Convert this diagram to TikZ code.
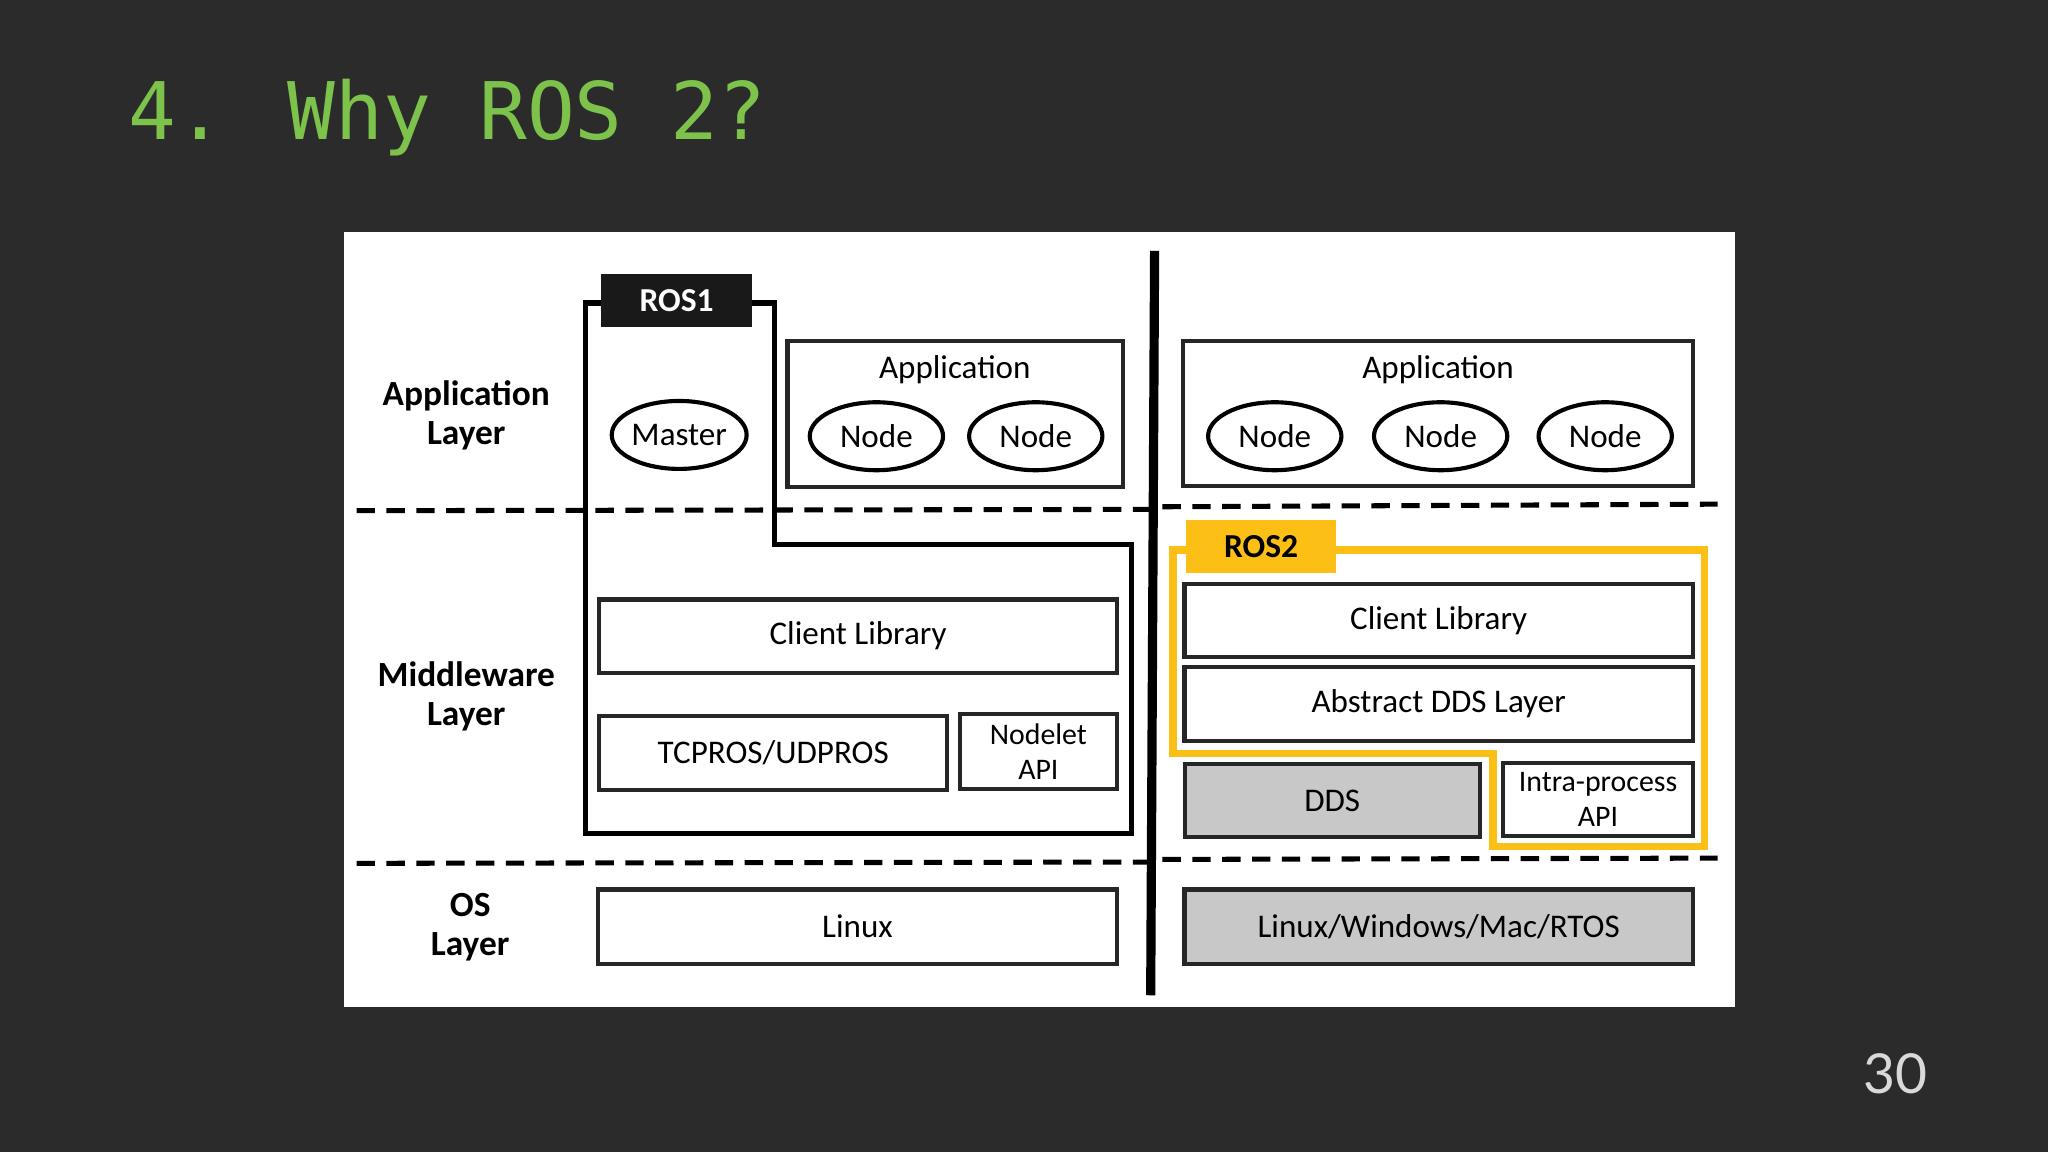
\documentclass[tikz,border=0pt]{standalone}
\usepackage{fontspec}
\setmainfont{Carlito}
\newfontfamily\titlefont{DejaVu Sans Mono}
\newfontfamily\numfont{Lato}
\usetikzlibrary{shapes.geometric}
\definecolor{slidebg}{HTML}{2B2B2B}
\definecolor{titlegreen}{HTML}{7DC24B}
\definecolor{rostwo}{HTML}{FBBF16}
\definecolor{boxgray}{HTML}{C8C8C8}
\tikzset{
  box/.style={draw=black!85, line width=0.9pt, fill=white, inner sep=1pt, align=center, font=\fontsize{7.2}{8.2}\selectfont},
  graybox/.style={box, fill=boxgray},
  ell/.style={ellipse, draw=black, line width=0.9pt, minimum width=1.02cm, minimum height=0.52cm, inner sep=0pt, font=\fontsize{7.2}{8.2}\selectfont},
  layer/.style={align=center, font=\bfseries\fontsize{7.7}{8.5}\selectfont},
  sep/.style={dashed, line width=1.1pt, dash pattern=on 4pt off 2.5pt},
}
\begin{document}
\begin{tikzpicture}[x=0.01cm, y=-0.01cm]
\fill[slidebg] (0,0) rectangle (1568,882);
\useasboundingbox (0,0) rectangle (1568,882);

% title and page number
\node[anchor=west, text=titlegreen, font=\titlefont\fontsize{17.3}{19}\selectfont] (title) at (86,90) {4. Why ROS 2?};
\node[text=black!15, font=\numfont\fontsize{12}{13}\selectfont] (pagenum) at (1451,822) {30};

% white panel
\fill[white] (263,178) rectangle (1328,771);

% layer separators
\draw[sep] (273,391) -- (880,390);
\draw[sep] (890,388) -- (1315,386);
\draw[sep] (273,661) -- (880,660);
\draw[sep] (890,658) -- (1315,657);
\draw[line width=2pt] (884,192) -- (881,762);

% layer names
\node[layer] (applayer) at (357,318) {Application\\Layer};
\node[layer] (midlayer) at (357,533) {Middleware\\Layer};
\node[layer] (oslayer) at (360,710) {OS\\Layer};

% --- ROS1 ---
\draw[line width=1.1pt] (460,232) -- (448,232) -- (448,638) -- (866,638) -- (866,417) -- (593,417) -- (593,232) -- (576,232);
\node[fill=black!90, text=white, minimum width=1.16cm, minimum height=0.37cm, font=\bfseries\fontsize{7.3}{8}\selectfont] (ros1) at (518,230) {ROS1};
\node[box, minimum width=2.57cm, minimum height=1.12cm] (app1) at (731.5,317) {};
\node[font=\fontsize{7.2}{8.2}\selectfont] (app1t) at (731,283) {Application};
\node[ell] (master) at (520,333) {Master};
\node[ell] (node1a) at (671,334) {Node};
\node[ell] (node1b) at (793,334) {Node};
\node[box, minimum width=3.96cm, minimum height=0.56cm] (cl1) at (657,487) {Client Library};
\node[box, minimum width=2.66cm, minimum height=0.57cm] (tcp) at (592,576.5) {TCPROS/UDPROS};
\node[box, minimum width=1.2cm, minimum height=0.57cm, font=\fontsize{6.5}{7.6}\selectfont] (nodelet) at (795,575.5) {Nodelet\\API};
\node[box, minimum width=3.97cm, minimum height=0.57cm] (linux) at (656.5,709.5) {Linux};

% --- ROS2 ---
\node[box, minimum width=3.9cm, minimum height=1.11cm] (app2) at (1101,316.5) {};
\node[font=\fontsize{7.2}{8.2}\selectfont] (app2t) at (1101,283) {Application};
\node[ell] (node2a) at (976,334) {Node};
\node[ell] (node2b) at (1103,334) {Node};
\node[ell] (node2c) at (1229,334) {Node};
\draw[rostwo, line width=1.6pt] (908,421) -- (898,421) -- (898,577) -- (1143,577) -- (1143,648) -- (1305,648) -- (1305,421) -- (1023,421);
\node[fill=rostwo, minimum width=1.15cm, minimum height=0.37cm, font=\bfseries\fontsize{7.3}{8}\selectfont] (ros2) at (965.5,418.5) {ROS2};
\node[box, minimum width=3.89cm, minimum height=0.56cm] (cl2) at (1101.5,475) {Client Library};
\node[box, minimum width=3.89cm, minimum height=0.56cm] (adds) at (1101.5,539) {Abstract DDS Layer};
\node[graybox, minimum width=2.26cm, minimum height=0.56cm] (dds) at (1020,613) {DDS};
\node[box, minimum width=1.45cm, minimum height=0.56cm, font=\fontsize{6.5}{7.6}\selectfont] (intra) at (1223.5,612) {Intra-process\\API};
\node[graybox, minimum width=3.89cm, minimum height=0.57cm] (multios) at (1101.5,709.5) {Linux/Windows/Mac/RTOS};
\end{tikzpicture}
\end{document}
